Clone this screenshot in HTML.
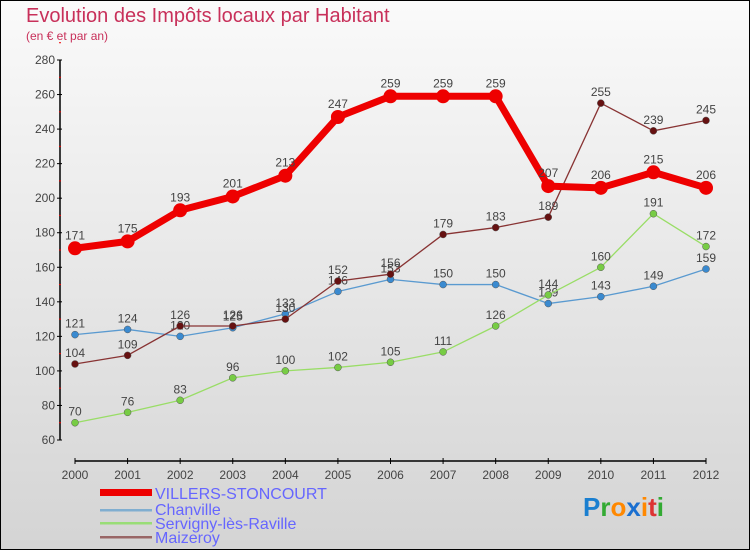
<!DOCTYPE html>
<html><head><meta charset="utf-8"><style>
body{margin:0}
#wrap{width:750px;height:550px;position:relative;overflow:hidden}
svg text{font-family:"Liberation Sans",sans-serif}
</style></head><body>
<div id="wrap">
<svg id="chart" width="750" height="550" xmlns="http://www.w3.org/2000/svg">
<defs><linearGradient id="bg" x1="0" y1="0" x2="0" y2="1"><stop offset="0" stop-color="#fafafa"/><stop offset="1" stop-color="#d4d4d4"/></linearGradient></defs>
<rect x="0.5" y="0.5" width="749" height="549" fill="url(#bg)" stroke="#000"/>
<text x="26" y="22" font-size="20" fill="#c8305a">Evolution des Impôts locaux par Habitant</text>
<text x="26" y="40" font-size="12" fill="#c8305a">(en € et par an)</text>
<g id="axes"></g><g id="series"></g>
<g>
<rect x="100" y="489" width="52" height="7" fill="#e00"/>
<text x="155" y="499" font-size="16" fill="#6666ff">VILLERS-STONCOURT</text>
<rect x="100" y="509" width="52" height="2.5" fill="#80aed0"/>
<text x="155" y="515" font-size="16" fill="#6666ff">Chanville</text>
<rect x="100" y="522" width="52" height="2.5" fill="#99dd77"/>
<text x="155" y="529" font-size="16" fill="#6666ff">Servigny-lès-Raville</text>
<rect x="100" y="536" width="52" height="2.5" fill="#996666"/>
<text x="155" y="543" font-size="16" fill="#6666ff">Maizeroy</text>
</g>
<text x="583" y="516" font-size="26" font-weight="bold"><tspan fill="#1a7fd0">P</tspan><tspan fill="#3a3">r</tspan><tspan fill="#f80">o</tspan><tspan fill="#1a6fd0">x</tspan><tspan fill="#f80">i</tspan><tspan fill="#d33">t</tspan><tspan fill="#3a3">i</tspan></text>
</svg></div>
<script>
const years=[2000,2001,2002,2003,2004,2005,2006,2007,2008,2009,2010,2011,2012];
const villers=[171,175,193,201,213,247,259,259,259,207,206,215,206];
const chanville=[121,124,120,125,133,146,153,150,150,139,143,149,159];
const servigny=[70,76,83,96,100,102,105,111,126,144,160,191,172];
const maizeroy=[104,109,126,126,130,152,156,179,183,189,255,239,245];
const yTicks=[60,80,100,120,140,160,180,200,220,240,260,280];
const NS='http://www.w3.org/2000/svg';
const X=i=>75+i*(706-75)/(years.length-1);
const Y=v=>440-(v-60)*380/220;
function mk(tag,attrs,parent){const e=document.createElementNS(NS,tag);for(const k in attrs)e.setAttribute(k,attrs[k]);parent.appendChild(e);return e;}
const ax=document.getElementById('axes');
const yAxis=mk('line',{x1:60,y1:Y(280),x2:60,y2:Y(60),stroke:'#000','stroke-width':1.5},ax);


yTicks.forEach(v=>{
 mk('line',{x1:57,y1:Y(v),x2:62,y2:Y(v),stroke:'#000'},ax);
 mk('line',{x1:59,y1:Y(v+10),x2:61,y2:Y(v+10),stroke:'#e00'},ax);
 const t=mk('text',{x:55,y:Y(v)+4,'font-size':12,fill:'#444','text-anchor':'end'},ax);t.textContent=v;
 
 
});
const xAxis=mk('line',{x1:75,y1:461,x2:706,y2:461,stroke:'#000','stroke-width':1.5},ax);


years.forEach((y,i)=>{
 mk('line',{x1:X(i),y1:458,x2:X(i),y2:464,stroke:'#000'},ax);
 const t=mk('text',{x:X(i),y:479,'font-size':12,fill:'#444','text-anchor':'middle'},ax);t.textContent=y;
 
 
});
const sg=document.getElementById('series');
function series(name,data,line,dot,w,r){
 const g=mk('g',{},sg);
 
 
 const p=mk('polyline',{points:data.map((v,i)=>X(i)+','+Y(v)).join(' '),fill:'none',stroke:line,'stroke-width':w,'stroke-linejoin':'round'},g);
 
 
 data.forEach((v,i)=>{
  const c=mk('circle',{cx:X(i),cy:Y(v),r:r,fill:dot,stroke:w>3?'none':'#555','stroke-width':0.5},g);
  
  
  const t=mk('text',{x:X(i),y:Y(v)-(w>3?9:7),'font-size':12,fill:'#444','text-anchor':'middle'},g);t.textContent=v;
  
  
 });
}
series('chanville',chanville,'#5a9ad0','#3a8ad0',1.3,3.5);
series('servigny',servigny,'#99dd66','#77cc44',1.3,3.5);
series('maizeroy',maizeroy,'#883333','#661111',1.3,3.5);
series('villers',villers,'#ee0000','#ee0000',7,7);
</script>
</body></html>
